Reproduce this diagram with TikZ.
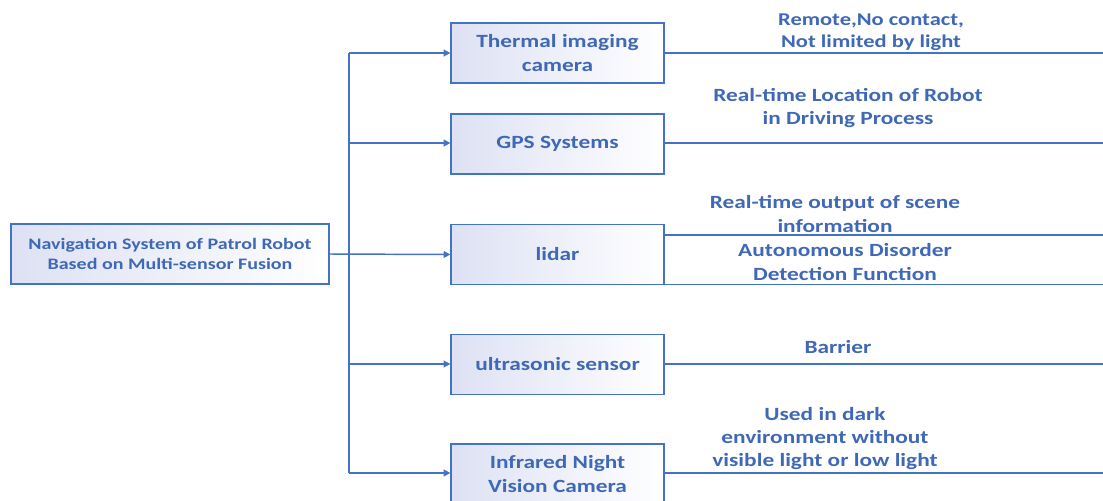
\documentclass[tikz,border=0pt]{standalone}
\usepackage{fontspec}
\setmainfont[FakeStretch=1.25]{Carlito}
\usetikzlibrary{arrows.meta}
\definecolor{bl}{HTML}{4472C4}
\definecolor{tx}{HTML}{3F68B6}
\definecolor{lav}{HTML}{DDE1F3}
\tikzset{
  boxnode/.style={draw=bl, line width=0.9pt, left color=lav, right color=white,
    minimum width=159.75pt, minimum height=45pt, inner sep=0pt,
    align=center, text=tx, font=\bfseries\fontsize{14}{18}\selectfont},
  lbl/.style={align=center, text=tx, inner sep=0pt, font=\bfseries\fontsize{14}{17.6}\selectfont},
  conn/.style={draw=bl, line width=1.1pt},
  arr/.style={conn, -{Triangle[length=5pt,width=5pt]}}
}
\begin{document}
\begin{tikzpicture}[x=0.75pt,y=-0.75pt]
\useasboundingbox (0,0) rectangle (1103,500);
\clip (0,0) rectangle (1103,500);
\node[boxnode, minimum width=238.5pt, font=\bfseries\fontsize{12}{15.5}\selectfont] (nav) at (170,254) {Navigation System of Patrol Robot\\Based on Multi-sensor Fusion};
\node[boxnode] (thermal) at (557.5,53) {Thermal imaging\\camera};
\node[boxnode] (gps) at (557.5,144) {GPS Systems};
\node[boxnode] (lidar) at (557.5,254.5) {lidar};
\node[boxnode] (ultra) at (557.5,364.5) {ultrasonic sensor};
\node[boxnode] (ir) at (557.5,474) {Infrared Night\\Vision Camera};

\coordinate (t1) at (349,53);
\coordinate (t2) at (349,143);
\coordinate (t4) at (349,364);
\coordinate (t5) at (349,473);
\draw[conn] (t1) -- (t5);
\draw[arr] (t1) -- (t1 -| thermal.west);
\draw[arr] (t2) -- (t2 -| gps.west);
\draw[arr] (nav.east) -- (lidar.west);
\draw[arr] (t4) -- (t4 -| ultra.west);
\draw[arr] (t5) -- (t5 -| ir.west);

\coordinate (e1) at (1103,53);
\coordinate (e2) at (1103,143);
\coordinate (e3a) at (1103,235);
\coordinate (e3b) at (1103,284.5);
\coordinate (e4) at (1103,364);
\coordinate (e5) at (1103,473);
\draw[conn] (e1 -| thermal.east) -- (e1);
\draw[conn] (e2 -| gps.east) -- (e2);
\draw[conn] (e3a -| lidar.east) -- (e3a);
\draw[conn] (e3b -| lidar.east) -- (e3b);
\draw[conn] (e4 -| ultra.east) -- (e4);
\draw[conn] (e5 -| ir.east) -- (e5);

\node[lbl, font=\bfseries\fontsize{13.5}{16.5}\selectfont] (l1) at (871,32) {Remote,No contact,\\Not limited by light};
\node[lbl] (l2) at (848,108) {Real-time Location of Robot\\in Driving Process};
\node[lbl] (l3) at (835,214) {Real-time output of scene\\information};
\node[lbl] (l4) at (845,262) {Autonomous Disorder\\Detection Function};
\node[lbl] (l5) at (838,347.5) {Barrier};
\node[lbl] (l6) at (825,438.5) {Used in dark\\environment without\\visible light or low light};
\end{tikzpicture}
\end{document}
